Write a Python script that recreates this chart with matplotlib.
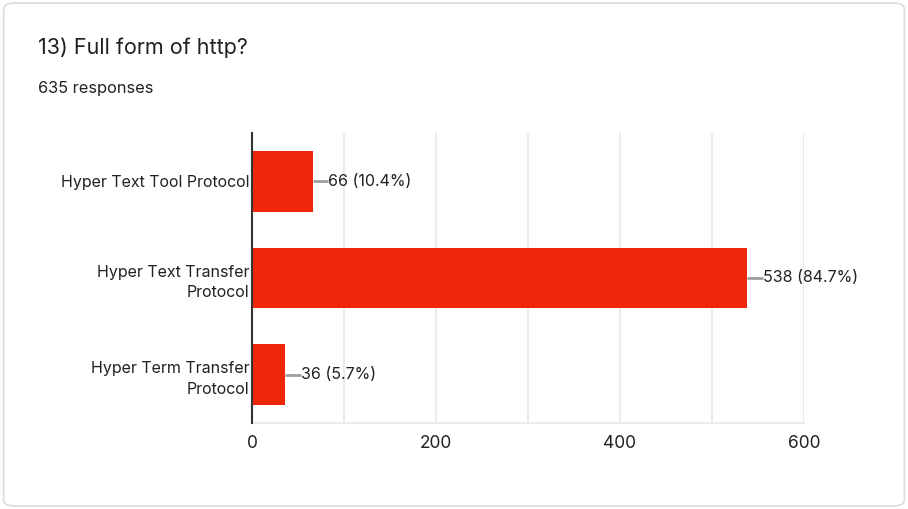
import matplotlib.pyplot as plt
from matplotlib.patches import FancyBboxPatch

plt.rcParams['font.family'] = ['Inter', 'DejaVu Sans']

categories = ['Hyper Text Tool Protocol', 'Hyper Text Transfer\nProtocol', 'Hyper Term Transfer\nProtocol']
counts = [66, 538, 36]
percents = [10.4, 84.7, 5.7]
total = 635

fig = plt.figure(figsize=(9.08, 5.09), dpi=100)

# card background with rounded border
card = FancyBboxPatch((0.004, 0.006), 0.992, 0.988, boxstyle='round,pad=0,rounding_size=0.012',
                      transform=fig.transFigure, facecolor='white', edgecolor='#dadce0', lw=1.2,
                      zorder=-1)
fig.patches.append(card)

fig.text(38 / 908, 1 - 48 / 509, '13) Full form of http?', fontsize=15.5, color='#202124', va='center')
fig.text(38 / 908, 1 - 88 / 509, f'{total} responses', fontsize=11.8, color='#202124', va='center')

ax = fig.add_axes([252 / 908, 1 - 423 / 509, 552 / 908, 290 / 509])
ax.set_zorder(2)
ax.patch.set_alpha(0)
y = range(len(categories))
ax.barh(y, counts, height=0.63, color='#f0260a', zorder=3)

for i, (c, p) in enumerate(zip(counts, percents)):
    ax.plot([c, c + 17], [i, i], color='#9e9e9e', lw=2, zorder=2, solid_capstyle='butt')
    ax.text(c + 17, i, f'{c} ({p}%)', va='center', ha='left', fontsize=11.5, color='#202124')

ax.set_xlim(0, 600)
ax.set_ylim(2.5, -0.5)
ax.set_xticks([0, 200, 400, 600])
ax.set_xticks([100, 300, 500], minor=True)
ax.grid(axis='x', which='both', color='#ebebeb', lw=1.5, zorder=0)
ax.set_yticks(list(y))
ax.set_yticklabels(categories, fontsize=11.5, color='#202124')
ax.tick_params(axis='y', length=0, pad=2)
ax.tick_params(axis='x', which='both', length=0, pad=9, labelsize=12.5, labelcolor='#202124')
for s in ['top', 'right']:
    ax.spines[s].set_visible(False)
ax.spines['bottom'].set_color('#ebebeb')
ax.spines['bottom'].set_linewidth(1.5)
ax.spines['left'].set_color('#333333')
ax.spines['left'].set_linewidth(1.5)
ax.spines['left'].set_zorder(4)
for lbl in ax.get_yticklabels():
    lbl.set_multialignment('right')
    lbl.set_linespacing(1.45)

fig.savefig('out.png', dpi=100)
